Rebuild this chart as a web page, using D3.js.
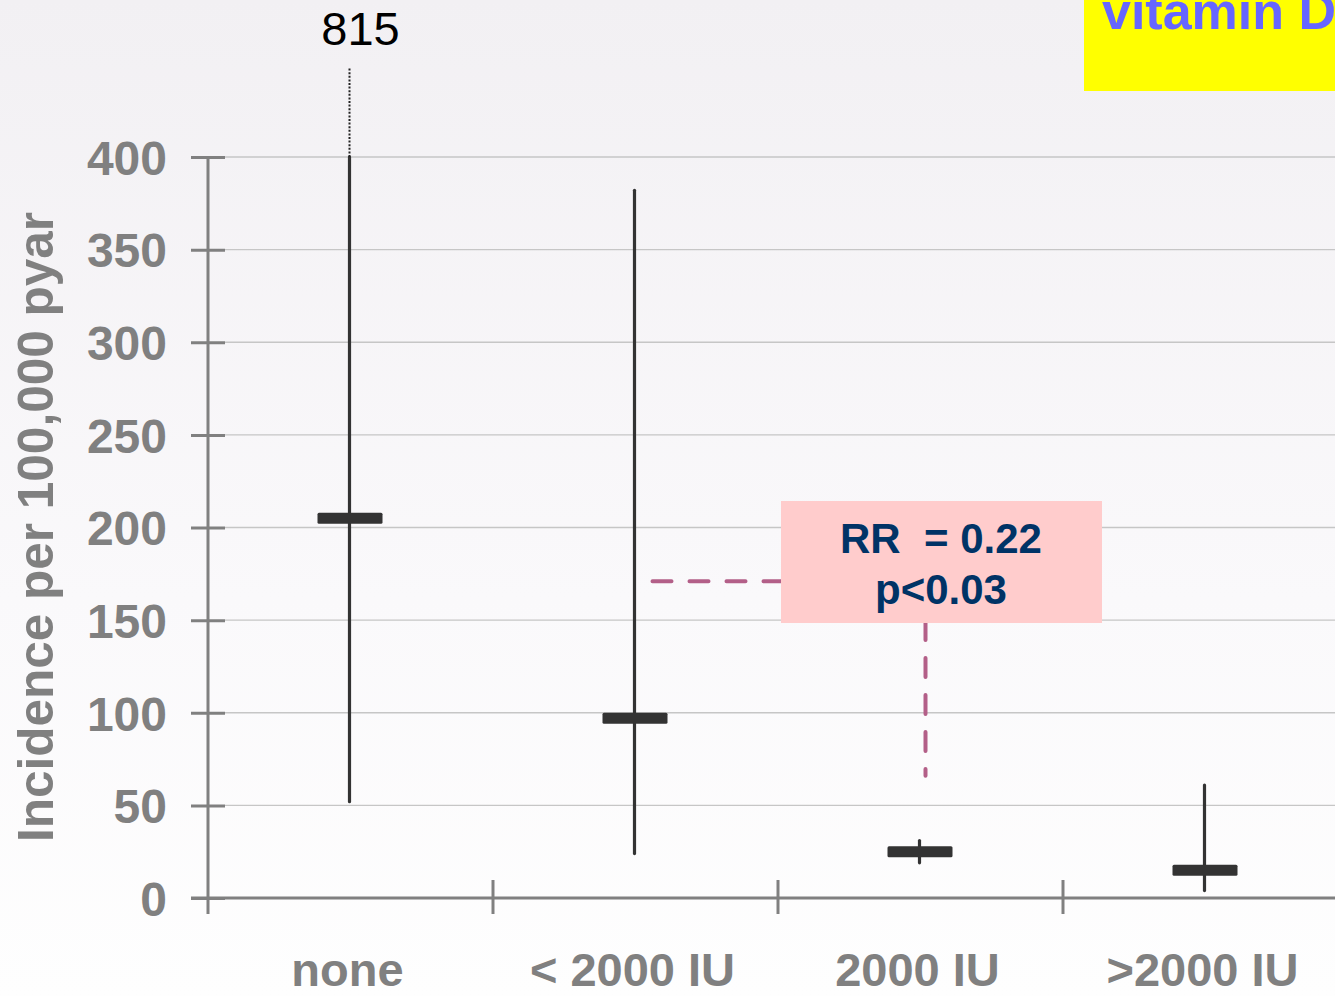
<!DOCTYPE html>
<html>
<head>
<meta charset="utf-8">
<script src="https://cdn.jsdelivr.net/npm/d3@7"></script>
<style>
html,body{margin:0;padding:0;overflow:hidden;background:#fff;}
svg{display:block;font-family:"Liberation Sans",Arial,sans-serif;}
</style>
</head>
<body>
<svg id="chart" width="1335" height="996"></svg>
<script>
// ---- data ----
const categories = ["none", "< 2000 IU", "2000 IU", ">2000 IU"];
const medians    = [205, 97, 25, 15];
const lows       = [52, 24, 19, 4];
const highs      = [815, 382, 31, 61];
const yTicks     = [0, 50, 100, 150, 200, 250, 300, 350, 400];
const yMax       = 400;
const offScaleLabel = "815";
const annotationLines = ["RR  = 0.22", "p<0.03"];
const connectorHValue = 171;   // horizontal dashed level
const connectorVValue = 66;    // bottom of vertical dashed line
const titleText = "vitamin D";
const yAxisTitle = "Incidence per 100,000 pyar";

// ---- setup ----
const W = 1335, H = 996;
const svg = d3.select("#chart");

const defs = svg.append("defs");
const grad = defs.append("linearGradient").attr("id","bg").attr("x1",0).attr("y1",0).attr("x2",0).attr("y2",1);
grad.append("stop").attr("offset","0%").attr("stop-color","#f2f0f3");
grad.append("stop").attr("offset","60%").attr("stop-color","#faf9fb");
grad.append("stop").attr("offset","100%").attr("stop-color","#fefefe");
svg.append("rect").attr("width",W).attr("height",H).attr("fill","url(#bg)");

const x = d3.scaleBand().domain(categories).range([208, 208 + 4*285]).paddingInner(0).paddingOuter(0);
const y = d3.scaleLinear().domain([0, yMax]).range([898, 157]);

const axisColor = "#808080";

// gridlines
svg.append("g").selectAll("line").data(yTicks.filter(d => d > 0)).join("line")
  .attr("x1", 225).attr("x2", W)
  .attr("y1", d => y(d)).attr("y2", d => y(d))
  .attr("stroke", "#c6c6c6").attr("stroke-width", 1.3);

// y axis
const yAxis = d3.axisLeft(y).tickValues(yTicks).tickSize(0).tickPadding(41);
const gy = svg.append("g").attr("transform","translate(208,0)").call(yAxis);
gy.select(".domain").remove();
gy.selectAll("text").attr("fill", axisColor).attr("font-size", 48).attr("font-weight","bold")
  .attr("font-family","'Liberation Sans',Arial,sans-serif").attr("dy","0.36em");
gy.selectAll(".tick").append("line").attr("x1",-17).attr("x2",17).attr("stroke",axisColor).attr("stroke-width",3);
svg.append("line").attr("x1",208).attr("x2",208).attr("y1",y(yMax)).attr("y2",914)
  .attr("stroke",axisColor).attr("stroke-width",3);

// x axis
svg.append("line").attr("x1",191).attr("x2",W).attr("y1",y(0)).attr("y2",y(0))
  .attr("stroke",axisColor).attr("stroke-width",3);
const bounds = categories.slice(1).map(c => x(c));
svg.append("g").selectAll("line").data(bounds).join("line")
  .attr("x1", d => d).attr("x2", d => d).attr("y1", 880).attr("y2", 914)
  .attr("stroke",axisColor).attr("stroke-width",3);
const xAxis = d3.axisBottom(x).tickSize(0).tickPadding(0);
const gx = svg.append("g").attr("transform","translate(-3,986)").call(xAxis);
gx.select(".domain").remove();
gx.selectAll("text").attr("fill",axisColor).attr("font-size",47).attr("font-weight","bold")
  .attr("font-family","'Liberation Sans',Arial,sans-serif").attr("dy",0);

// y axis title
svg.append("text")
  .attr("transform", `translate(53,${527}) rotate(-90)`)
  .attr("text-anchor","middle")
  .attr("fill",axisColor).attr("font-size",49.5).attr("font-weight","bold")
  .text(yAxisTitle);

// data marks
const rows = categories.map((c,i) => ({c, m: medians[i], lo: lows[i], hi: highs[i]}));
const cx = d => x(d.c) + x.bandwidth()/2 - 1;
const markColor = "#333333";

svg.append("g").selectAll("line").data(rows).join("line")
  .attr("x1", cx).attr("x2", cx)
  .attr("y1", d => y(d.lo)).attr("y2", d => y(Math.min(d.hi, yMax)))
  .attr("stroke", markColor).attr("stroke-width", 3.2).attr("stroke-linecap","round");

// off-scale extension
const off = rows.filter(d => d.hi > yMax);
svg.append("g").selectAll("line").data(off).join("line")
  .attr("x1", cx).attr("x2", cx)
  .attr("y1", y(yMax)).attr("y2", 68)
  .attr("stroke","#222").attr("stroke-width",2).attr("stroke-dasharray","2,1.6");
svg.append("g").selectAll("text").data(off).join("text")
  .attr("x", d => cx(d) + 11).attr("y", 45)
  .attr("text-anchor","middle").attr("font-size",47).attr("fill","#000")
  .text(offScaleLabel);

// median bars
svg.append("g").selectAll("rect").data(rows).join("rect")
  .attr("x", d => cx(d) - 32).attr("width", 65)
  .attr("y", d => y(d.m) - 5.5).attr("height", 11)
  .attr("rx", 1.5).attr("fill", markColor);

// annotation connectors
const dashColor = "#b35f88";
const c1 = rows[1], c2 = rows[2];
svg.append("line")
  .attr("x1", cx(c1) + 18).attr("x2", 781)
  .attr("y1", y(connectorHValue)).attr("y2", y(connectorHValue))
  .attr("stroke", dashColor).attr("stroke-width",4).attr("stroke-dasharray","19,18").attr("stroke-linecap","round");
svg.append("line")
  .attr("x1", cx(c2) + 6).attr("x2", cx(c2) + 6)
  .attr("y1", 623).attr("y2", y(connectorVValue))
  .attr("stroke", dashColor).attr("stroke-width",4).attr("stroke-dasharray","19,18").attr("stroke-linecap","round")
  .attr("stroke-dashoffset", 2);

// annotation box
svg.append("rect").attr("x",781).attr("y",501).attr("width",321).attr("height",122).attr("fill","#ffcccc");
svg.append("g").selectAll("text").data(annotationLines).join("text")
  .attr("x", 941).attr("y", (d,i) => 553 + i*51)
  .attr("text-anchor","middle").attr("font-size",42).attr("font-weight","bold").attr("fill","#003366")
  .attr("xml:space","preserve").style("white-space","pre")
  .text(d => d);

// title box
svg.append("rect").attr("x",1084).attr("y",-10).attr("width",270).attr("height",101).attr("fill","#ffff00");
svg.append("text").attr("x",1102).attr("y",29).attr("font-size",52).attr("font-weight","bold")
  .attr("fill","#6666ff").text(titleText);
</script>
</body>
</html>
